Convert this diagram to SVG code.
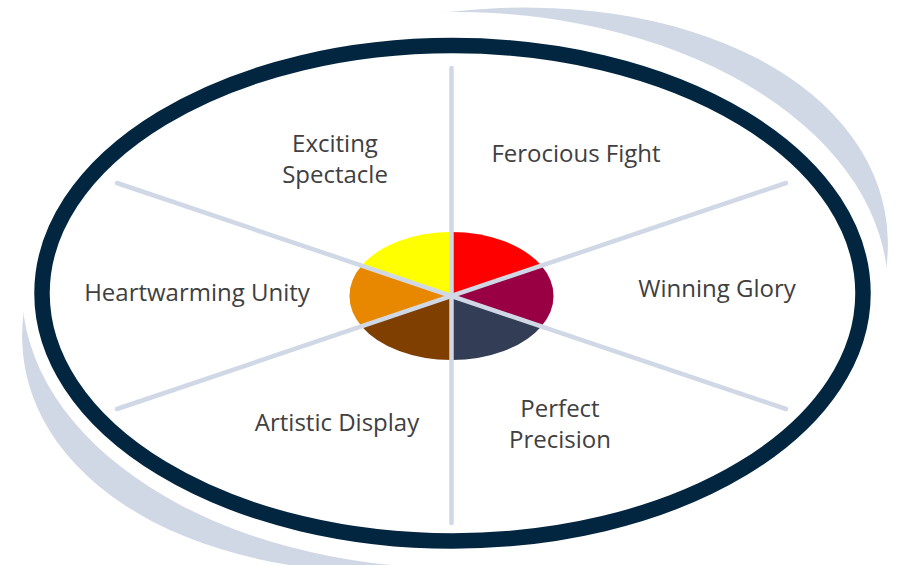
<svg xmlns="http://www.w3.org/2000/svg" width="897" height="565" viewBox="0 0 897 565">
<style>
.lbl{font-family:"Open Sans","Noto Sans","Liberation Sans",sans-serif;font-size:24px;fill:#404040;text-anchor:middle}
.spoke{stroke:#D0D8E6;stroke-width:4.5;stroke-linecap:round;fill:none}
</style>
<defs>
<mask id="cres" maskUnits="userSpaceOnUse" x="0" y="0" width="897" height="565">
<rect x="0" y="0" width="897" height="565" fill="#fff"/>
<ellipse cx="455" cy="290" rx="433" ry="278" fill="#000"/>
</mask>
</defs>
<rect width="897" height="565" fill="#fff"/>
<g id="backdrop">
<g mask="url(#cres)">
<ellipse cx="455" cy="290" rx="437" ry="276" transform="rotate(-10.15 455 290)" fill="#D0D8E6"/>
</g>
<ellipse cx="452.5" cy="293.3" rx="410.5" ry="247.7" fill="#fff" stroke="#032640" stroke-width="15.5"/>
</g>
<g id="node-ferocious-fight">
<path d="M451.5 296 L451.5 232 A102 64 0 0 1 541.3 265.6 Z" fill="#FF0000"/>
<text class="lbl" x="576" y="162">Ferocious Fight</text>
</g>
<g id="node-winning-glory">
<path d="M451.5 296 L541.3 265.6 A102 64 0 0 1 541.3 326.4 Z" fill="#990044"/>
<text class="lbl" x="717" y="297">Winning Glory</text>
</g>
<g id="node-perfect-precision">
<path d="M451.5 296 L541.3 326.4 A102 64 0 0 1 451.5 360 Z" fill="#333D55"/>
<text class="lbl" x="560" y="417">Perfect</text>
<text class="lbl" x="560" y="448">Precision</text>
</g>
<g id="node-artistic-display">
<path d="M451.5 296 L451.5 360 A102 64 0 0 1 361.7 326.4 Z" fill="#7F3F00"/>
<text class="lbl" x="337" y="431">Artistic Display</text>
</g>
<g id="node-heartwarming-unity">
<path d="M451.5 296 L361.7 326.4 A102 64 0 0 1 361.7 265.6 Z" fill="#E88800"/>
<text class="lbl" x="197" y="301">Heartwarming Unity</text>
</g>
<g id="node-exciting-spectacle">
<path d="M451.5 296 L361.7 265.6 A102 64 0 0 1 451.5 232 Z" fill="#FFFF00"/>
<text class="lbl" x="335" y="152">Exciting</text>
<text class="lbl" x="335" y="183">Spectacle</text>
</g>
<g id="connectors">
<line class="spoke" x1="451.5" y1="68" x2="451.5" y2="523"/>
<line class="spoke" x1="117" y1="183" x2="786" y2="409"/>
<line class="spoke" x1="786" y1="183" x2="117" y2="409"/>
</g>
</svg>
